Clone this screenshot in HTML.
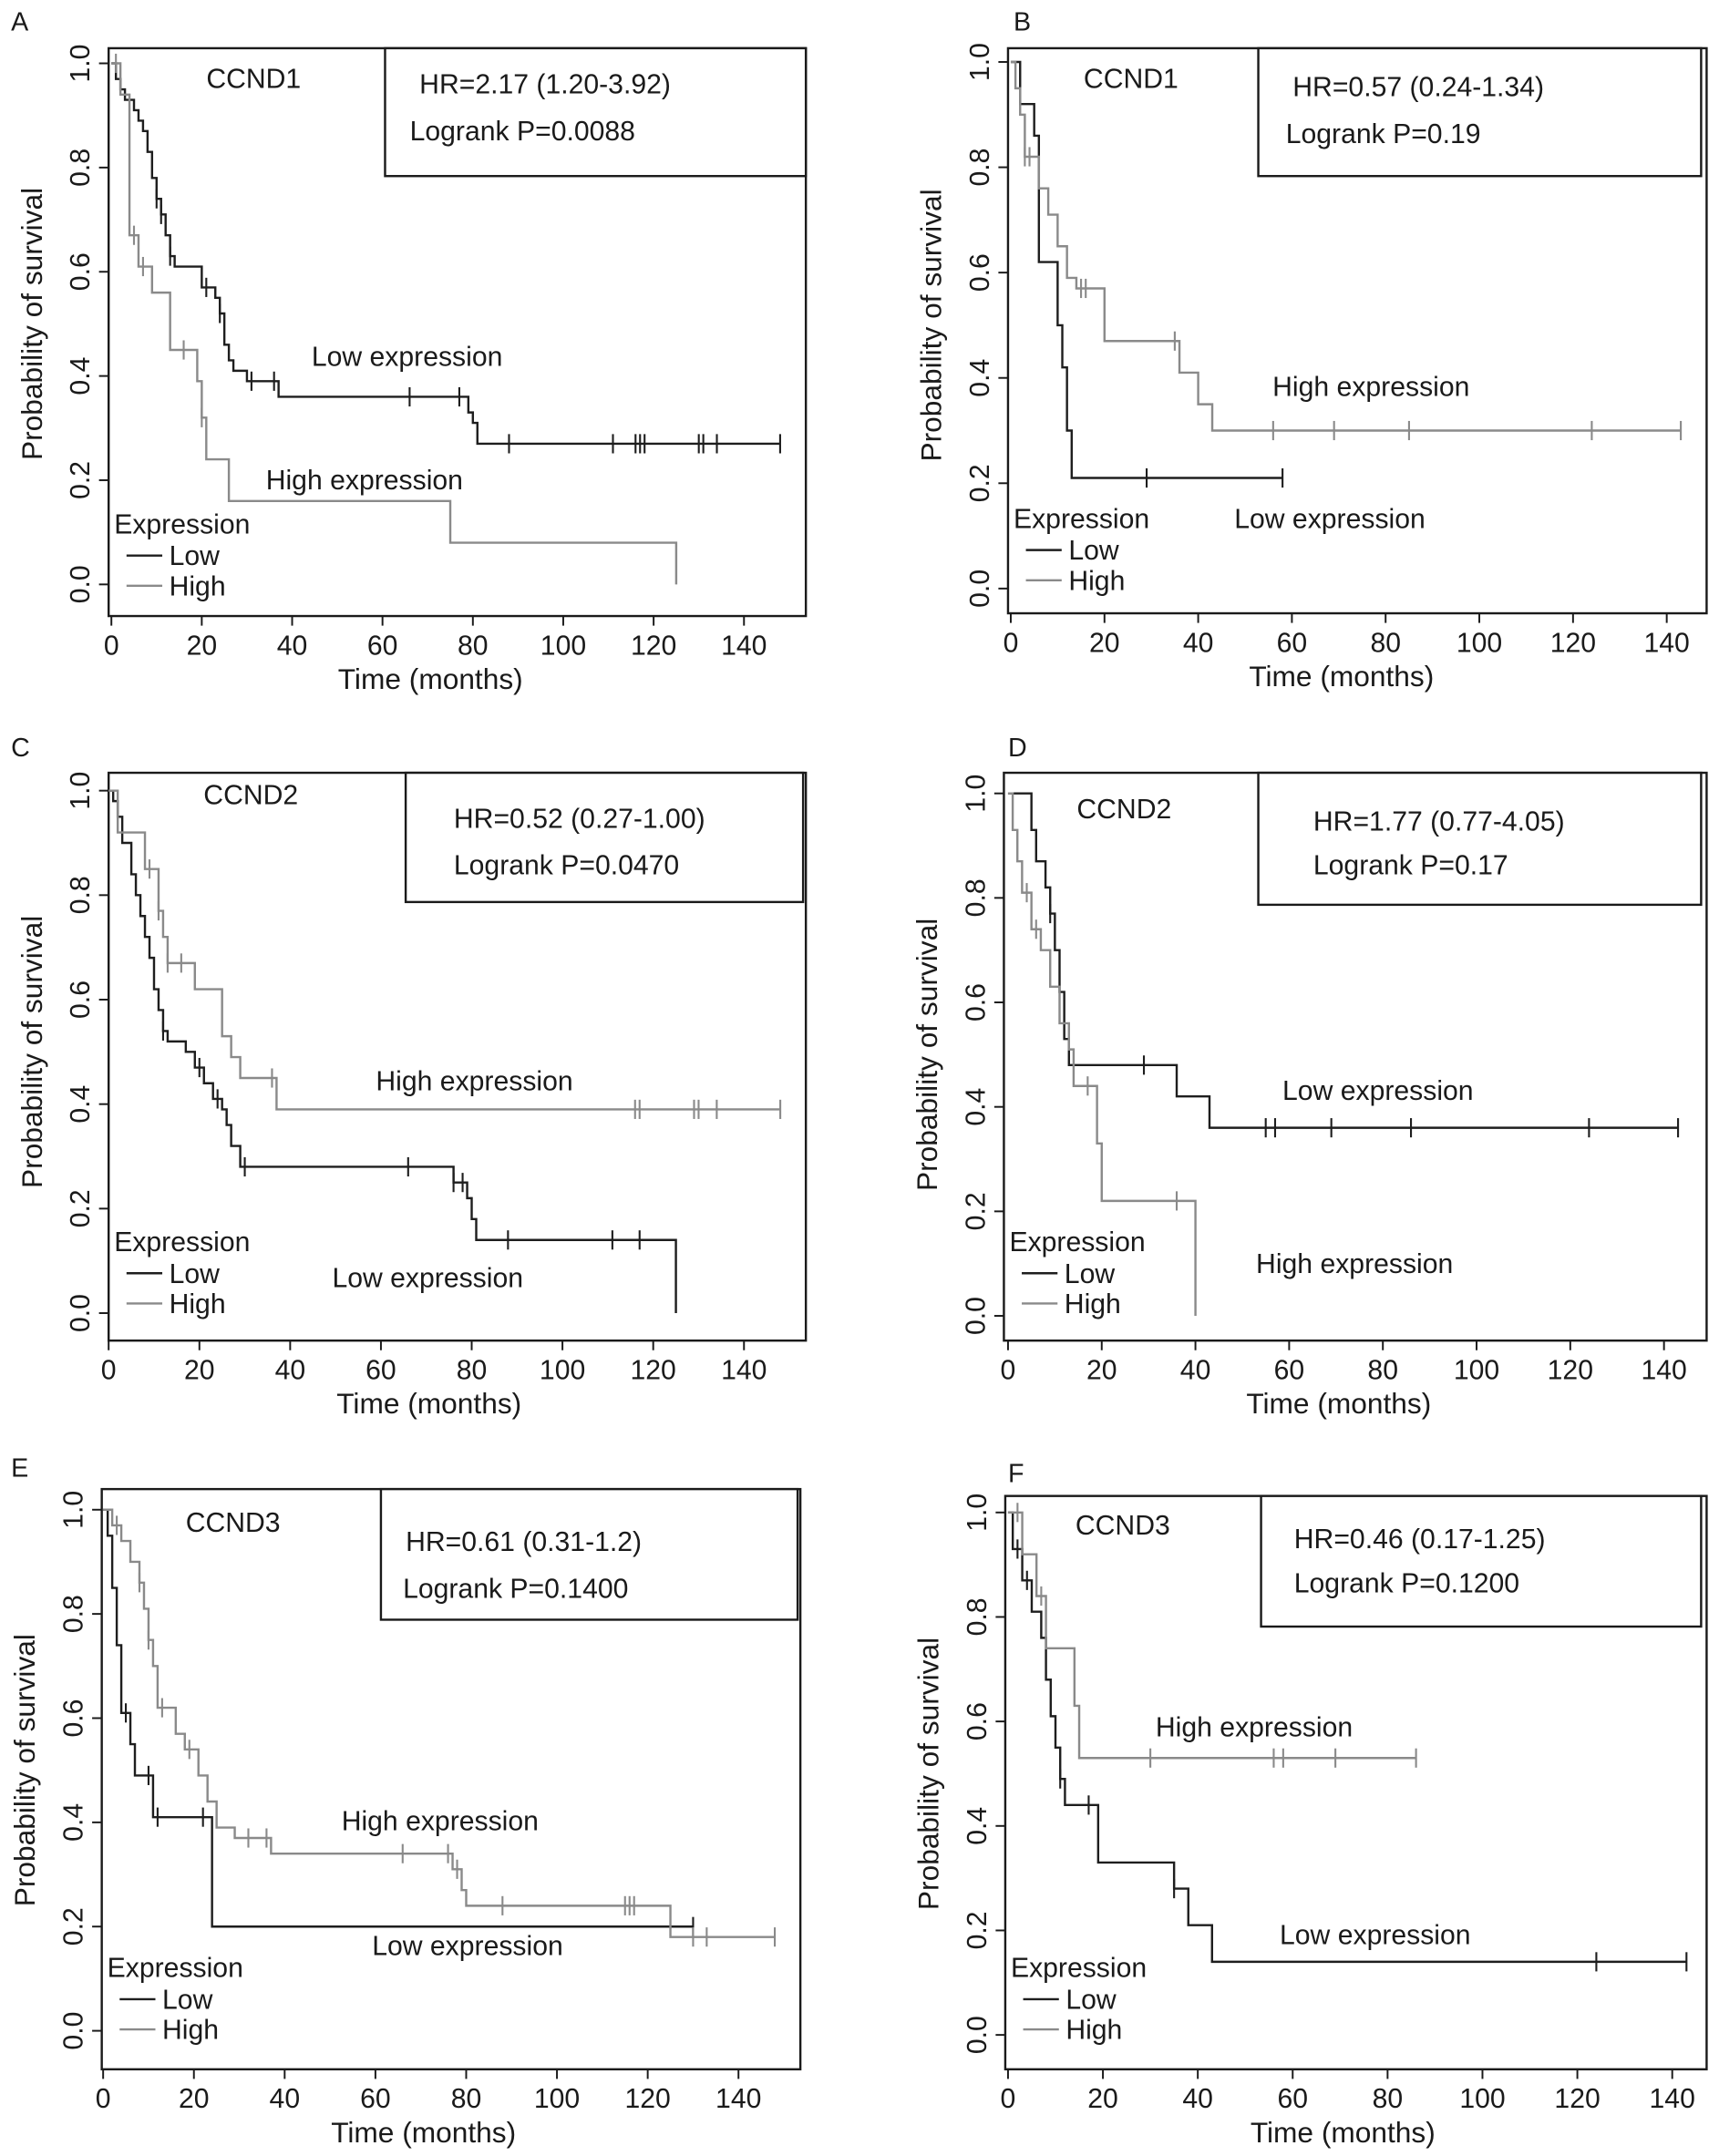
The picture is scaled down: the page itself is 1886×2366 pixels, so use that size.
<!DOCTYPE html>
<html><head><meta charset="utf-8"><style>
html,body{margin:0;padding:0;background:#fff;}
svg{display:block;font-family:"Liberation Sans",Arial,sans-serif;}
</style></head><body>
<svg id="fig" width="1886" height="2366" viewBox="0 0 1250 1568" xmlns="http://www.w3.org/2000/svg"></svg>
<script>
// ---- Data arrays (time in months, survival probability) ----
const xTicks = [0,20,40,60,80,100,120,140];
const yTicks = [0.0,0.2,0.4,0.6,0.8,1.0];
const yTickLabels = ["0.0","0.2","0.4","0.6","0.8","1.0"];

const aLowT = [0,1,2,3,5,6,7,8,9,10,11,12,13,14,20,23,24,25,26,27,30,37,79,80,81,148];
const aLowS = [1,0.97,0.95,0.93,0.91,0.89,0.87,0.83,0.78,0.74,0.71,0.67,0.63,0.61,0.57,0.55,0.52,0.46,0.43,0.41,0.39,0.36,0.33,0.31,0.27,0.27];
const aLowC = [10,11,13,21,24,31,36,66,77,88,111,116,117,118,130,131,134,148];
const aHighT = [0,2,4,6,9,13,19,20,21,26,75,125,125];
const aHighS = [1,0.94,0.67,0.61,0.56,0.45,0.39,0.32,0.24,0.16,0.08,0.08,0];
const aHighC = [1,5,7,16,20];

const bLowT = [0,2,5,6,10,11,12,13,58];
const bLowS = [1,0.92,0.86,0.62,0.5,0.42,0.3,0.21,0.21];
const bLowC = [29,58];
const bHighT = [0,1,2,3,6,8,10,12,14,20,36,40,43,143];
const bHighS = [1,0.95,0.9,0.82,0.76,0.71,0.65,0.59,0.57,0.47,0.41,0.35,0.3,0.3];
const bHighC = [3,4,15,16,35,56,69,85,124,143];

const cLowT = [0,1,2,3,5,6,7,8,9,10,11,12,13,17,19,21,23,25,26,27,29,76,79,80,81,125,125];
const cLowS = [1,0.98,0.95,0.9,0.84,0.8,0.76,0.72,0.68,0.62,0.58,0.54,0.52,0.5,0.47,0.44,0.41,0.39,0.36,0.32,0.28,0.25,0.22,0.18,0.14,0.14,0];
const cLowC = [12,20,24,30,66,76,78,88,111,117];
const cHighT = [0,2,8,11,12,13,19,25,27,29,37,148];
const cHighS = [1,0.92,0.85,0.77,0.72,0.67,0.62,0.53,0.49,0.45,0.39,0.39];
const cHighC = [9,11,13,16,36,116,117,129,130,134,148];

const dLowT = [0,5,6,8,9,10,11,12,13,36,43,143];
const dLowS = [1,0.93,0.87,0.82,0.77,0.7,0.62,0.53,0.48,0.42,0.36,0.36];
const dLowC = [9,29,55,57,69,86,124,143];
const dHighT = [0,1,2,3,5,7,9,11,13,14,19,20,40,40];
const dHighS = [1,0.93,0.87,0.81,0.74,0.7,0.63,0.56,0.51,0.44,0.33,0.22,0.22,0];
const dHighC = [4,6,17,36];

const eLowT = [0,1,2,3,4,6,7,11,24,130];
const eLowS = [1,0.95,0.85,0.74,0.61,0.55,0.49,0.41,0.2,0.2];
const eLowC = [5,10,12,22,130];
const eHighT = [0,2,4,6,8,9,10,11,12,16,18,21,23,25,29,37,77,79,80,125,148];
const eHighS = [1,0.97,0.94,0.9,0.86,0.81,0.75,0.7,0.62,0.57,0.54,0.49,0.44,0.39,0.37,0.34,0.31,0.27,0.24,0.18,0.18];
const eHighC = [3,8,10,13,19,32,36,66,76,78,88,115,116,117,130,133,148];

const fLowT = [0,1,3,5,7,8,9,10,11,12,19,35,38,43,143];
const fLowS = [1,0.93,0.87,0.81,0.76,0.68,0.61,0.55,0.49,0.44,0.33,0.28,0.21,0.14,0.14];
const fLowC = [2,4,11,17,35,124,143];
const fHighT = [0,3,6,8,14,15,86];
const fHighS = [1,0.92,0.84,0.74,0.63,0.53,0.53];
const fHighC = [2,7,30,56,58,69,86];

const NS="http://www.w3.org/2000/svg";
const svg=document.getElementById('fig');
function mk(tag,attrs,parent){const e=document.createElementNS(NS,tag);for(const k in attrs)e.setAttribute(k,attrs[k]);(parent||svg).appendChild(e);return e;}
function txt(s,x,y,size,parent,anchor,extra){const t=mk('text',Object.assign({x:x,y:y,'font-size':size,fill:'#1a1a1a','text-anchor':anchor||'start'},extra||{}),parent);t.textContent=s;return t;}
function survAt(T,S,t){let v=S[0];for(let i=0;i<T.length;i++){if(T[i]<=t)v=S[i];}return v;}

const panels=[
 {id:'a',L:'A',lx:8,ly:22,bx:79,by:35,bw:507,bh:413,x0:81,x140:541,y1:46,y0:425,lb:[280,35,306,93],hr:'HR=2.17 (1.20-3.92)',lr:'Logrank P=0.0088',hrx:305,hry:68,lrx:298,lry:102,gene:'CCND1',gx:150,gy:64,
  low:[aLowT,aLowS,aLowC],high:[aHighT,aHighS,aHighC],
  labels:[['Low expression',296,266],['High expression',265,356]],legY:388},
 {id:'b',L:'B',lx:737,ly:22,bx:733,by:35,bw:508,bh:411,x0:735,x140:1212,y1:45,y0:428,lb:[915,35,322,93],hr:'HR=0.57 (0.24-1.34)',lr:'Logrank P=0.19',hrx:940,hry:70,lrx:935,lry:104,gene:'CCND1',gx:788,gy:64,
  low:[bLowT,bLowS,bLowC],high:[bHighT,bHighS,bHighC],
  labels:[['High expression',997,288],['Low expression',967,384]],legY:384},
 {id:'c',L:'C',lx:8,ly:550,bx:79,by:562,bw:507,bh:413,x0:79,x140:541,y1:575,y0:955,lb:[295,562,289,94],hr:'HR=0.52 (0.27-1.00)',lr:'Logrank P=0.0470',hrx:330,hry:602,lrx:330,lry:636,gene:'CCND2',gx:148,gy:585,
  low:[cLowT,cLowS,cLowC],high:[cHighT,cHighS,cHighC],
  labels:[['High expression',345,793],['Low expression',311,936]],legY:910},
 {id:'d',L:'D',lx:733,ly:550,bx:730,by:562,bw:511,bh:413,x0:733,x140:1210,y1:577,y0:957,lb:[915,562,322,96],hr:'HR=1.77 (0.77-4.05)',lr:'Logrank P=0.17',hrx:955,hry:604,lrx:955,lry:636,gene:'CCND2',gx:783,gy:595,
  low:[dLowT,dLowS,dLowC],high:[dHighT,dHighS,dHighC],
  labels:[['Low expression',1002,800],['High expression',985,926]],legY:910},
 {id:'e',L:'E',lx:8,ly:1074,bx:74,by:1083,bw:508,bh:422,x0:75,x140:537,y1:1098,y0:1477,lb:[277,1083,303,95],hr:'HR=0.61 (0.31-1.2)',lr:'Logrank P=0.1400',hrx:295,hry:1128,lrx:293,lry:1162,gene:'CCND3',gx:135,gy:1114,
  low:[eLowT,eLowS,eLowC],high:[eHighT,eHighS,eHighC],
  labels:[['High expression',320,1331],['Low expression',340,1422]],legY:1438},
 {id:'f',L:'F',lx:733,ly:1078,bx:731,by:1088,bw:510,bh:417,x0:733,x140:1216,y1:1100,y0:1480,lb:[917,1088,320,95],hr:'HR=0.46 (0.17-1.25)',lr:'Logrank P=0.1200',hrx:941,hry:1126,lrx:941,lry:1158,gene:'CCND3',gx:782,gy:1116,
  low:[fLowT,fLowS,fLowC],high:[fHighT,fHighS,fHighC],
  labels:[['High expression',912,1263],['Low expression',1000,1414]],legY:1438}
];

panels.forEach(p=>{
  const g=mk('g',{});
  
  
  const X=t=>p.x0+(p.x140-p.x0)*t/140;
  const Y=s=>p.y0+(p.y1-p.y0)*s;
  const pl=txt(p.L,p.lx,p.ly,19,g);
  
  
  const box=mk('rect',{x:p.bx,y:p.by,width:p.bw,height:p.bh,fill:'none',stroke:'#1a1a1a','stroke-width':1.6},g);
  
  
  const bot=p.by+p.bh, lft=p.bx;
  xTicks.forEach(v=>{
    mk('line',{x1:X(v),x2:X(v),y1:bot,y2:bot+7,stroke:'#1a1a1a','stroke-width':1.3},g);
    const t=txt(String(v),X(v),bot+28,20,g,'middle');
    
    
  });
  yTicks.forEach((v,i)=>{
    mk('line',{x1:lft,x2:lft-7,y1:Y(v),y2:Y(v),stroke:'#1a1a1a','stroke-width':1.3},g);
    const t=txt(yTickLabels[i],lft-21,Y(v),20,g,'middle',{transform:'rotate(-90 '+(lft-21)+' '+Y(v)+')',dy:'0.35em'});
    
    
  });
  const xt=txt('Time (months)',(X(0)+X(140))/2+2,bot+53,21,g,'middle');
  
  
  const ycx=lft-56, ycy=(Y(0)+Y(1))/2;
  const yt=txt('Probability of survival',ycx,ycy,21,g,'middle',{transform:'rotate(-90 '+ycx+' '+ycy+')',dy:'0.35em'});
  
  
  const lb=mk('rect',{x:p.lb[0],y:p.lb[1],width:p.lb[2],height:p.lb[3],fill:'#fff',stroke:'#1a1a1a','stroke-width':1.6},g);
  
  
  const h=txt(p.hr,p.hrx,p.hry,20,g);
  
  
  const l=txt(p.lr,p.lrx,p.lry,20,g);
  
  
  const gn=txt(p.gene,p.gx,p.gy,20,g);
  
  
  [['low',p.low,'#1e1e1e'],['high',p.high,'#8a8a8a']].forEach(([nm,ser,col])=>{
    const [T,S,C]=ser;
    let d='M'+X(T[0])+' '+Y(S[0]);
    for(let i=1;i<T.length;i++){d+=' H'+X(T[i])+' V'+Y(S[i]);}
    const path=mk('path',{d:d,fill:'none',stroke:col,'stroke-width':1.6},g);
    
    
    C.forEach(c=>{
      const yy=Y(survAt(T,S,c));
      const m=mk('line',{x1:X(c),x2:X(c),y1:yy-7,y2:yy+7,stroke:col,'stroke-width':1.4},g);
      
      
    });
  });
  p.labels.forEach(([s,x,y])=>{
    const t=txt(s,x,y,20,g,'middle');
    
    
  });
  const lx=lft+4;
  const et=txt('Expression',lx,p.legY,20,g);
  
  
  [['Low','#1e1e1e',23],['High','#8a8a8a',45]].forEach(([s,col,dy])=>{
    mk('line',{x1:lx+9,x2:lx+35,y1:p.legY+dy-7,y2:p.legY+dy-7,stroke:col,'stroke-width':1.6},g);
    const t=txt(s,lx+40,p.legY+dy,20,g);
    
    
  });
});
</script>
</body></html>
